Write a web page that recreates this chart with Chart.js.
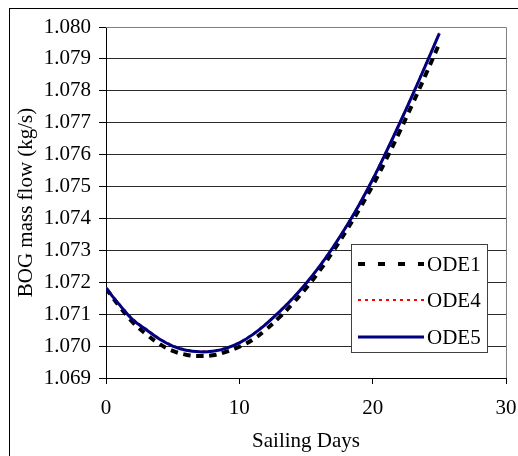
<!DOCTYPE html>
<html>
<head>
<meta charset="utf-8">
<title>BOG mass flow</title>
<script src="https://cdn.jsdelivr.net/npm/chart.js"></script>
<style>
  html, body { margin: 0; padding: 0; background: #fff; }
  canvas { display: block; }
</style>
</head>
<body>
<canvas id="chart" width="518" height="456"></canvas>
<script>
// sailing days and BOG mass flow (kg/s)
const days = [0, 1, 2, 3, 4, 5, 6, 7, 8, 9, 10, 11, 12, 13, 14, 15, 16, 17, 18, 19, 20, 21, 22, 23, 24, 25];
const ode1 = [1.07181, 1.07125, 1.07075, 1.07038, 1.07007, 1.06985, 1.06973, 1.06969, 1.06971, 1.06982, 1.06998,
              1.07020, 1.07052, 1.07090, 1.07133, 1.07181, 1.07235, 1.07295, 1.07360, 1.07429, 1.07503,
              1.07584, 1.07670, 1.07760, 1.07853, 1.07948];
const ode4 = [1.07183, 1.07132, 1.07086, 1.07054, 1.07024, 1.07002, 1.06989, 1.06984, 1.06986, 1.06995, 1.07012,
              1.07038, 1.07071, 1.07109, 1.07151, 1.07198, 1.07251, 1.07310, 1.07375, 1.07446, 1.07524,
              1.07609, 1.07698, 1.07790, 1.07885, 1.07982];
const ode5 = [1.07181, 1.07130, 1.07083, 1.07052, 1.07022, 1.07000, 1.06987, 1.06982, 1.06984, 1.06993, 1.07010,
              1.07036, 1.07069, 1.07107, 1.07149, 1.07196, 1.07249, 1.07308, 1.07373, 1.07444, 1.07522,
              1.07607, 1.07696, 1.07788, 1.07883, 1.07980];
const seriesNames = ['ODE1', 'ODE4', 'ODE5'];
const xTicks = [0, 10, 20, 30];
const yMin = 1.069, yMax = 1.080, yStep = 0.001;

const FONT = 'Liberation Serif';
const pts = (vals) => vals.map((v, i) => ({ x: days[i], y: v }));

// white background, outer frame, grey top/right plot edge, and the legend box
const framePlugin = {
  id: 'frame',
  beforeDraw(chart) {
    const ctx = chart.ctx;
    ctx.save();
    ctx.fillStyle = '#fff';
    ctx.fillRect(0, 0, chart.width, chart.height);
    ctx.strokeStyle = '#000';
    ctx.lineWidth = 1;
    ctx.strokeRect(9.5, 8.5, chart.width + 20, chart.height + 20);
    ctx.restore();
  },
  afterDraw(chart) {
    const ctx = chart.ctx;
    const a = chart.chartArea;
    ctx.save();
    ctx.strokeStyle = '#808080';
    ctx.lineWidth = 1;
    ctx.beginPath();
    ctx.moveTo(a.left, Math.round(a.top) + 0.5);
    ctx.lineTo(Math.round(a.right) + 0.5, Math.round(a.top) + 0.5);
    ctx.lineTo(Math.round(a.right) + 0.5, a.bottom);
    ctx.stroke();

    // legend
    const bx = 351.5, by = 244.5, bw = 136, bh = 108;
    ctx.fillStyle = '#fff';
    ctx.fillRect(bx, by, bw, bh);
    ctx.strokeStyle = '#404040';
    ctx.strokeRect(bx, by, bw, bh);
    const rows = [264, 300, 337];
    const legendDash = [[7, 13], [3, 4], []];
    chart.data.datasets.forEach((ds, i) => {
      const y = rows[i];
      ctx.beginPath();
      ctx.setLineDash(legendDash[i]);
      ctx.strokeStyle = ds.borderColor;
      ctx.lineWidth = ds.borderWidth;
      ctx.moveTo(358, y);
      ctx.lineTo(424, y);
      ctx.stroke();
      ctx.setLineDash([]);
      ctx.fillStyle = '#000';
      ctx.font = '21px "' + FONT + '"';
      ctx.textBaseline = 'middle';
      ctx.textAlign = 'left';
      ctx.fillText(ds.label, 427, y + 1);
    });
    ctx.restore();
  }
};

new Chart(document.getElementById('chart'), {
  type: 'line',
  data: {
    datasets: [
      { label: seriesNames[0], data: pts(ode1), borderColor: '#000', borderWidth: 4, borderDash: [7, 6], order: 3 },
      { label: seriesNames[1], data: pts(ode4), borderColor: '#ff0000', borderWidth: 2, borderDash: [3, 4], order: 2 },
      { label: seriesNames[2], data: pts(ode5), borderColor: '#000080', borderWidth: 3, order: 1 }
    ]
  },
  options: {
    responsive: false,
    animation: false,
    elements: { point: { radius: 0 }, line: { tension: 0.4, fill: false } },
    layout: { padding: { left: 0, right: 12, top: 27, bottom: 0 } },
    plugins: { legend: { display: false }, tooltip: { enabled: false } },
    scales: {
      x: {
        type: 'linear',
        min: 0, max: 30,
        afterBuildTicks: (s) => { s.ticks = xTicks.map(v => ({ value: v })); },
        afterFit: (s) => { s.height = 78; s.paddingLeft = 0; s.paddingRight = 0; },
        border: { color: '#000', width: 1 },
        grid: { drawOnChartArea: false, drawTicks: true, tickLength: 6, tickColor: '#000' },
        ticks: { color: '#000', padding: 12, font: { family: FONT, size: 21 } },
        title: { display: true, text: 'Sailing Days', color: '#000',
                 font: { family: FONT, size: 21 }, padding: { top: 0, bottom: 2 } }
      },
      y: {
        min: yMin, max: yMax,
        ticks: { stepSize: yStep, color: '#000', padding: 8, font: { family: FONT, size: 21 },
                 callback: (v) => Number(v).toFixed(3) },
        afterFit: (s) => { s.width = 106; },
        border: { color: '#000', width: 1 },
        grid: { color: '#2a2a2a', lineWidth: 1, drawTicks: true, tickLength: 7, tickColor: '#000' },
        title: { display: true, text: 'BOG mass flow (kg/s)', color: '#000',
                 font: { family: FONT, size: 21 }, padding: { top: 14, bottom: 0 } }
      }
    }
  },
  plugins: [framePlugin]
});
</script>
</body>
</html>
